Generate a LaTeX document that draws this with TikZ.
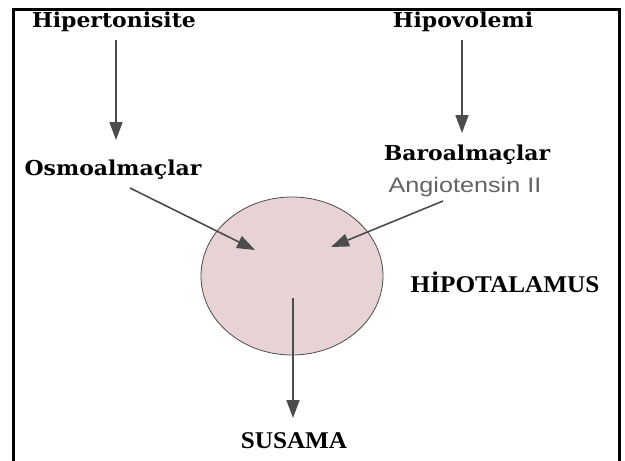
\documentclass[tikz,border=0pt]{standalone}
\usepackage{fontspec}
\usetikzlibrary{arrows.meta,shapes.geometric}
\newfontfamily\labelfont[FakeStretch=1.07]{DejaVu Serif Bold}
\newfontfamily\capsfont[FakeStretch=1.05]{Liberation Serif Bold}
\newfontfamily\sansfont[FakeStretch=1.2]{Liberation Sans}
\definecolor{arrowgray}{HTML}{4C4C4C}
\definecolor{hypopink}{HTML}{E8D3D4}
\definecolor{angiogray}{HTML}{646464}

\begin{document}
\begin{tikzpicture}[x=1pt,y=-1pt,
  term/.style={font=\labelfont\fontsize{20.5}{24}\selectfont,anchor=base,inner sep=0pt},
  caps/.style={font=\capsfont\fontsize{24}{28}\selectfont,anchor=base,inner sep=0pt},
  arr/.style={draw=arrowgray,line width=1.6pt,-{Triangle[length=18pt,width=13pt,fill=arrowgray]}}]
  \useasboundingbox (0,0) rectangle (625,461);
  \fill[white] (0,0) rectangle (625,461);
  \draw[line width=3pt] (13,9) rectangle (619,480);

  % Inputs
  \node[term] (hiper) at (114,27) {Hipertonisite};
  \node[term] (hipov) at (463,27) {Hipovolemi};
  \node[term] (osmo) at (113,175) {Osmoalmaçlar};
  \node[term] (baro) at (467,160) {Baroalmaçlar};
  \node[font=\sansfont\fontsize{21}{25}\selectfont,angiogray,anchor=base,inner sep=0pt] (angio) at (465,192) {Angiotensin II};

  % Hypothalamus
  \node[ellipse,draw=arrowgray,line width=0.8pt,fill=hypopink,minimum width=182pt,minimum height=158pt] (hypo) at (292,276) {};
  \node[caps] (hypolabel) at (505,292) {HİPOTALAMUS};
  \node[caps] (susama) at (294,448) {SUSAMA};

  % Arrow ends
  \coordinate (hiperout) at (116,40);
  \coordinate (osmoin) at (116,140);
  \coordinate (hipovout) at (462,40);
  \coordinate (baroin) at (462,133);
  \coordinate (osmoout) at (130,188);
  \coordinate (hypoleft) at (255,250);
  \coordinate (angioout) at (443,201);
  \coordinate (hyporight) at (331,247);
  \coordinate (hypoout) at (293,298);
  \coordinate (susamain) at (293,418);

  \draw[arr] (hiperout) -- (osmoin);
  \draw[arr] (hipovout) -- (baroin);
  \draw[arr] (osmoout) -- (hypoleft);
  \draw[arr] (angioout) -- (hyporight);
  \draw[arr] (hypoout) -- (susamain);
\end{tikzpicture}
\end{document}
